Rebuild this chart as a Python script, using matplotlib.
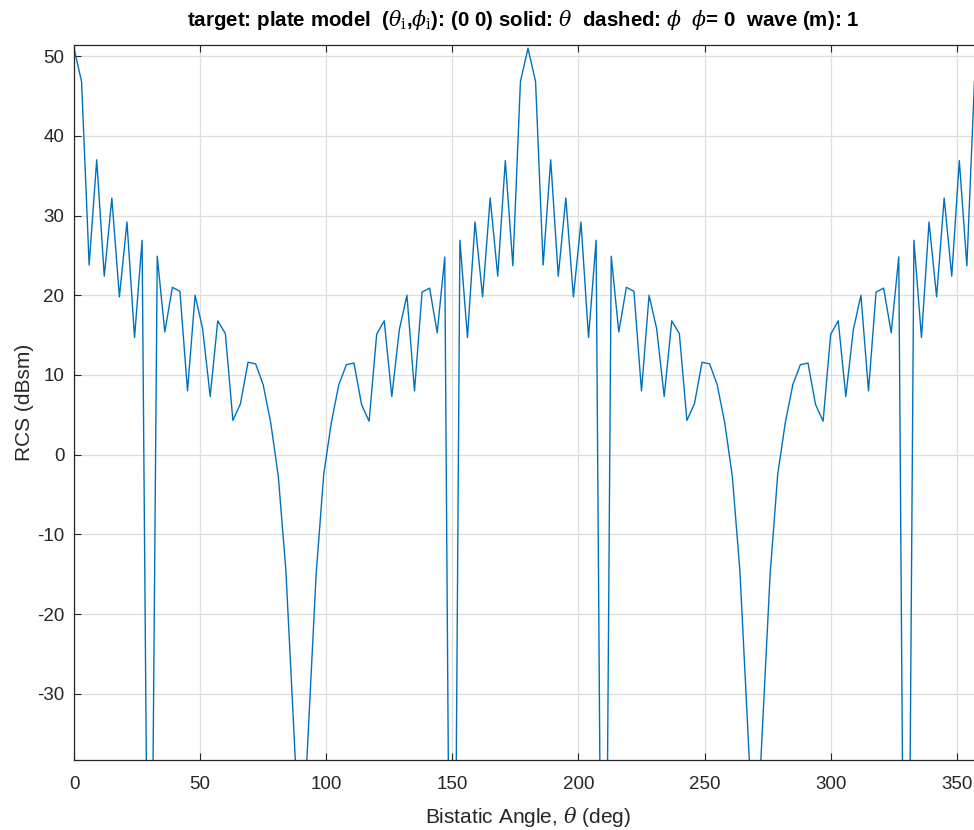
import matplotlib.pyplot as plt
import numpy as np

# bistatic angle, 3 deg steps
theta = np.arange(0, 361, 3)

rcs_first = [51.0, 46.8, 23.8, 37.0, 22.4, 32.2, 19.8, 29.2, 14.7, 26.9,
             -90.0, 24.9, 15.4, 21.0, 20.5, 8.0, 20.0, 15.8, 7.3, 16.8,
             15.2, 4.3, 6.4, 11.6, 11.4, 8.8, 4.0, -2.7, -14.5, -33.5,
             -53.0, -34.0, -15.0, -2.5, 4.0, 8.8, 11.3, 11.5, 6.3, 4.2,
             15.1, 16.8, 7.3, 15.7, 20.0, 8.0, 20.4, 20.9, 15.3, 24.8,
             -110.0, 26.9, 14.7, 29.2, 19.8, 32.2, 22.4, 36.9, 23.7, 46.8,
             51.0]
rcs_second = [46.8, 23.8, 37.0, 22.4, 32.2, 19.8, 29.2, 14.7, 26.9,
              -105.0, 24.9, 15.4, 21.0, 20.5, 8.0, 20.0, 15.8, 7.3, 16.8,
              15.2, 4.3, 6.4, 11.6, 11.4, 8.8, 4.0, -2.7, -14.5, -33.5,
              -53.0, -34.0, -15.0, -2.5, 4.0, 8.8, 11.3, 11.5, 6.3, 4.2,
              15.1, 16.8, 7.3, 15.7, 20.0, 8.0, 20.4, 20.9, 15.3, 24.8,
              -105.0, 26.9, 14.7, 29.2, 19.8, 32.2, 22.4, 36.9, 23.7, 46.8,
              51.0]
rcs = rcs_first + rcs_second

xticks = [0, 50, 100, 150, 200, 250, 300, 350]
yticks = [-30, -20, -10, 0, 10, 20, 30, 40, 50]

plt.rcParams['font.family'] = ['Liberation Sans', 'DejaVu Sans']
plt.rcParams['mathtext.fontset'] = 'dejavuserif'
plt.rcParams['axes.unicode_minus'] = False

fig = plt.figure(figsize=(9.74, 8.3), dpi=100)
ax = fig.add_axes([74 / 974, 1 - 760 / 830, 908 / 974, 715 / 830])

ax.plot(theta, rcs, color='#0072BD', linewidth=1.0)

ax.set_xlim(0, 360)
ax.set_ylim(-38.3, 51.4)
ax.set_xticks(xticks)
ax.set_yticks(yticks)
ax.grid(True, color='#dedede', linewidth=0.9)
ax.set_axisbelow(True)
ax.tick_params(direction='in', top=True, right=True, labelsize=13.5,
               colors='#262626', length=5)
ax.tick_params(axis='x', pad=11.5)
ax.tick_params(axis='y', pad=7)
for s in ax.spines.values():
    s.set_color('#262626')
    s.set_linewidth(0.9)

ax.set_xlabel(r'Bistatic Angle, $\theta$ (deg)', fontsize=15, color='#262626',
              labelpad=9)
ax.set_ylabel('RCS (dBsm)', fontsize=15, color='#262626', labelpad=2)
ax.set_title(r'target: plate model  ($\theta_{\rm i}$,$\phi_{\rm i}$): (0 0) solid: $\theta$  '
             r'dashed: $\phi$  $\phi$= 0  wave (m): 1',
             fontsize=14.8, fontweight='bold', pad=14, x=(523 - 74) / 908)

fig.savefig('out.png', dpi=100)
